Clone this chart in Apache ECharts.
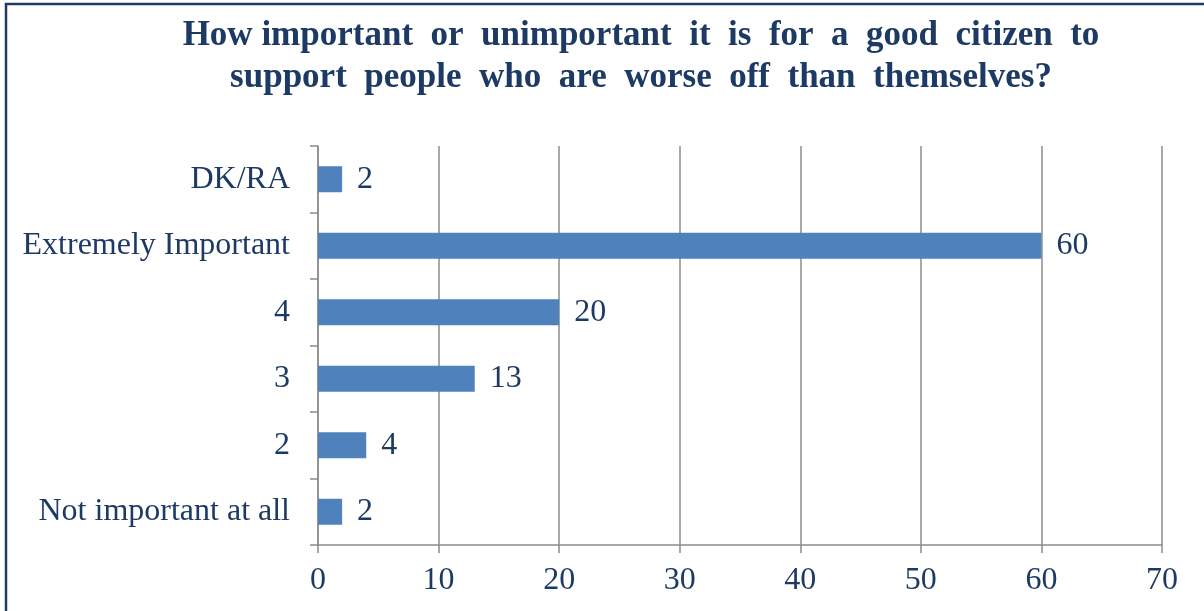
<!DOCTYPE html>
<html>
<head>
<meta charset="utf-8">
<script src="https://cdn.jsdelivr.net/npm/echarts@6/dist/echarts.min.js"></script>
<style>html,body{margin:0;padding:0;background:#fff;}#chart{width:1204px;height:611px;}</style>
</head>
<body>
<div id="chart"></div>
<script>
const categories = ['Not important at all', '2', '3', '4', 'Extremely Important', 'DK/RA'];
const values = [2, 4, 13, 20, 60, 2];
const xTicks = [0, 10, 20, 30, 40, 50, 60, 70];
const titleText = 'How important  or  unimportant  it  is  for  a  good  citizen  to\nsupport  people  who  are  worse  off  than  themselves?';

const textColor = '#1c3a63';
const chart = echarts.init(document.getElementById('chart'));
chart.setOption({
  backgroundColor: '#fff',
  animation: false,
  graphic: [{
    type: 'rect',
    shape: { x: 6, y: 4, width: 1300, height: 700 },
    style: { fill: 'none', stroke: '#1f3b63', lineWidth: 2.5 },
    silent: true
  }],
  title: {
    text: titleText,
    left: 636,
    textAlign: 'center',
    top: 10,
    textStyle: {
      fontFamily: 'Liberation Serif',
      fontWeight: 'bold',
      fontSize: 35,
      lineHeight: 42,
      color: textColor
    }
  },
  grid: { left: 318, right: 42, top: 146, bottom: 66, containLabel: false },
  xAxis: {
    type: 'value',
    min: 0,
    max: 70,
    interval: 10,
    axisLine: { show: true, lineStyle: { color: '#8c8c8c', width: 1.5 } },
    axisTick: { show: true, length: 8, lineStyle: { color: '#8c8c8c', width: 1.5 } },
    splitLine: { show: true, lineStyle: { color: '#8c8c8c', width: 1.5 } },
    axisLabel: {
      margin: 20,
      fontFamily: 'Liberation Serif',
      fontSize: 32,
      color: textColor,
      formatter: v => xTicks.includes(v) ? String(v) : ''
    }
  },
  yAxis: {
    type: 'category',
    data: categories,
    axisLine: { show: true, lineStyle: { color: '#8c8c8c', width: 1.5 } },
    axisTick: { show: true, length: 8, lineStyle: { color: '#8c8c8c', width: 1.5 } },
    axisLabel: {
      margin: 28,
      fontFamily: 'Liberation Serif',
      fontSize: 32,
      color: textColor
    }
  },
  series: [{
    type: 'bar',
    data: values,
    barWidth: 26,
    itemStyle: { color: '#4f81bd' },
    label: {
      show: true,
      position: 'right',
      distance: 15,
      fontFamily: 'Liberation Serif',
      fontSize: 32,
      color: textColor
    }
  }]
});
</script>
</body>
</html>
